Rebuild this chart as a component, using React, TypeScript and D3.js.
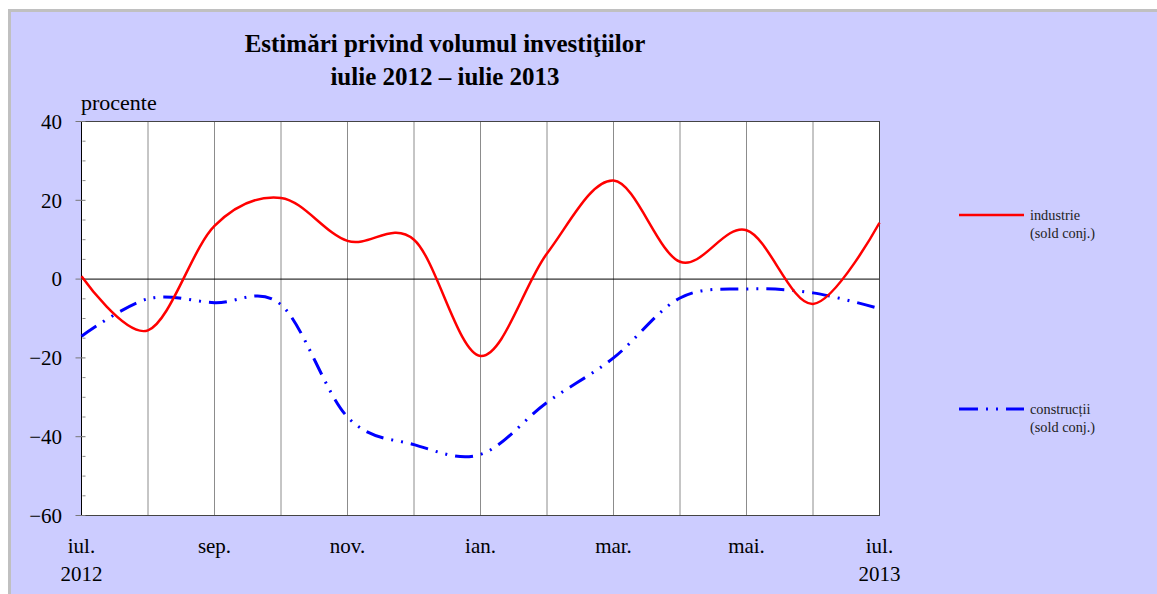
import React from 'react';
import * as d3 from 'd3';

// monthly values, iul. 2012 .. iul. 2013
const months = ['iul.', 'aug.', 'sep.', 'oct.', 'nov.', 'dec.', 'ian.', 'feb.', 'mar.', 'apr.', 'mai.', 'iun.', 'iul.'];
const industrie = [0.7, -13, 13.5, 20.6, 9.7, 10, -19.5, 6.5, 25, 4.4, 12.4, -6.3, 14.3];
const constructii = [-14.5, -5, -6, -6.5, -35, -42, -44.5, -31.3, -20, -4.8, -2.5, -3.5, -7.5];
const yTicks = [40, 20, 0, -20, -40, -60];
const labelIdx = [0, 2, 4, 6, 8, 10, 12];
const yearLabels: { [k: number]: string } = { 0: '2012', 12: '2013' };

const W = 1157, H = 594;
const serif = '"Liberation Serif", "Times New Roman", serif';

export default function App() {
  const x = d3.scaleLinear().domain([0, 12]).range([81.5, 879.5]);
  const y = d3.scaleLinear().domain([-60, 40]).range([515.5, 121.5]);

  const line = d3.line<number>()
    .x((_, i) => x(i))
    .y((d) => y(d))
    .curve(d3.curveCardinal.tension(0));

  const minorTicks = d3.range(-60, 41, 5).filter((v) => v % 20 !== 0);
  const fmt = (v: number) => (v < 0 ? '\u2212' + Math.abs(v) : String(v));

  return (
    <div style={{ position: 'absolute', left: 0, top: 0 }}>
      <svg width={W} height={H} style={{ display: 'block' }}>
        <rect x={0} y={0} width={W} height={H} fill="#ffffff" />
        <rect x={8} y={9} width={W} height={H} fill="#ccccff" />
        <path d={`M9.5,${H} V10.5 H${W}`} fill="none" stroke="#c0c0c0" strokeWidth={3} />

        <text x={445} y={52} textAnchor="middle" fontFamily={serif} fontWeight="bold" fontSize={25}>
          Estimări privind volumul investiţiilor
        </text>
        <text x={445} y={85} textAnchor="middle" fontFamily={serif} fontWeight="bold" fontSize={25}>
          iulie 2012 – iulie 2013
        </text>
        <text x={81} y={110} fontFamily={serif} fontSize={22}>procente</text>

        {/* plot area */}
        <rect x={x(0)} y={y(40)} width={x(12) - x(0)} height={y(-60) - y(40)} fill="#ffffff" />
        {months.map((m, i) => (i > 0 && i < 12 ? (
          <line key={'g' + i} x1={x(i)} x2={x(i)} y1={y(40)} y2={y(-60)} stroke="#8c8c8c" strokeWidth={1} />
        ) : null))}
        <line x1={x(0)} x2={x(12)} y1={y(0)} y2={y(0)} stroke="#000000" strokeWidth={1} />
        <rect x={x(0)} y={y(40)} width={x(12) - x(0)} height={y(-60) - y(40)} fill="none" stroke="#444444" strokeWidth={1} />
        <line x1={x(0)} x2={x(0)} y1={y(40)} y2={y(-60)} stroke="#000000" strokeWidth={1} />

        {minorTicks.map((v) => (
          <line key={'m' + v} x1={x(0) + 1} x2={x(0) + 4} y1={y(v)} y2={y(v)} stroke="#888888" strokeWidth={1} />
        ))}
        {yTicks.map((v) => (
          <g key={'t' + v}>
            <line x1={x(0) - 6} x2={x(0) + 4} y1={y(v)} y2={y(v)} stroke="#777777" strokeWidth={1} />
            <text x={62} y={y(v)} dy="0.35em" textAnchor="end" fontFamily={serif} fontSize={21}>{fmt(v)}</text>
          </g>
        ))}

        {labelIdx.map((i) => (
          <g key={'x' + i}>
            <text x={x(i)} y={553} textAnchor="middle" fontFamily={serif} fontSize={21}>{months[i]}</text>
            {yearLabels[i] ? (
              <text x={x(i)} y={581} textAnchor="middle" fontFamily={serif} fontSize={21}>{yearLabels[i]}</text>
            ) : null}
          </g>
        ))}

        <path d={line(constructii) || ''} fill="none" stroke="#0000ff" strokeWidth={3} strokeDasharray="18 8 2 8 2 8" />
        <path d={line(industrie) || ''} fill="none" stroke="#ff0000" strokeWidth={2.5} />

        {/* legend */}
        <line x1={959} x2={1024} y1={215} y2={215} stroke="#ff0000" strokeWidth={2.5} />
        <text x={1030} y={220} fontFamily={serif} fontSize={14.3} fill="#222">industrie</text>
        <text x={1030} y={238} fontFamily={serif} fontSize={14.3} fill="#222">(sold conj.)</text>
        <line x1={959} x2={1024} y1={409} y2={409} stroke="#0000ff" strokeWidth={3} strokeDasharray="19 8 2 8 2 8" />
        <text x={1030} y={414} fontFamily={serif} fontSize={14.3} fill="#222">construcții</text>
        <text x={1030} y={432} fontFamily={serif} fontSize={14.3} fill="#222">(sold conj.)</text>
      </svg>
    </div>
  );
}
